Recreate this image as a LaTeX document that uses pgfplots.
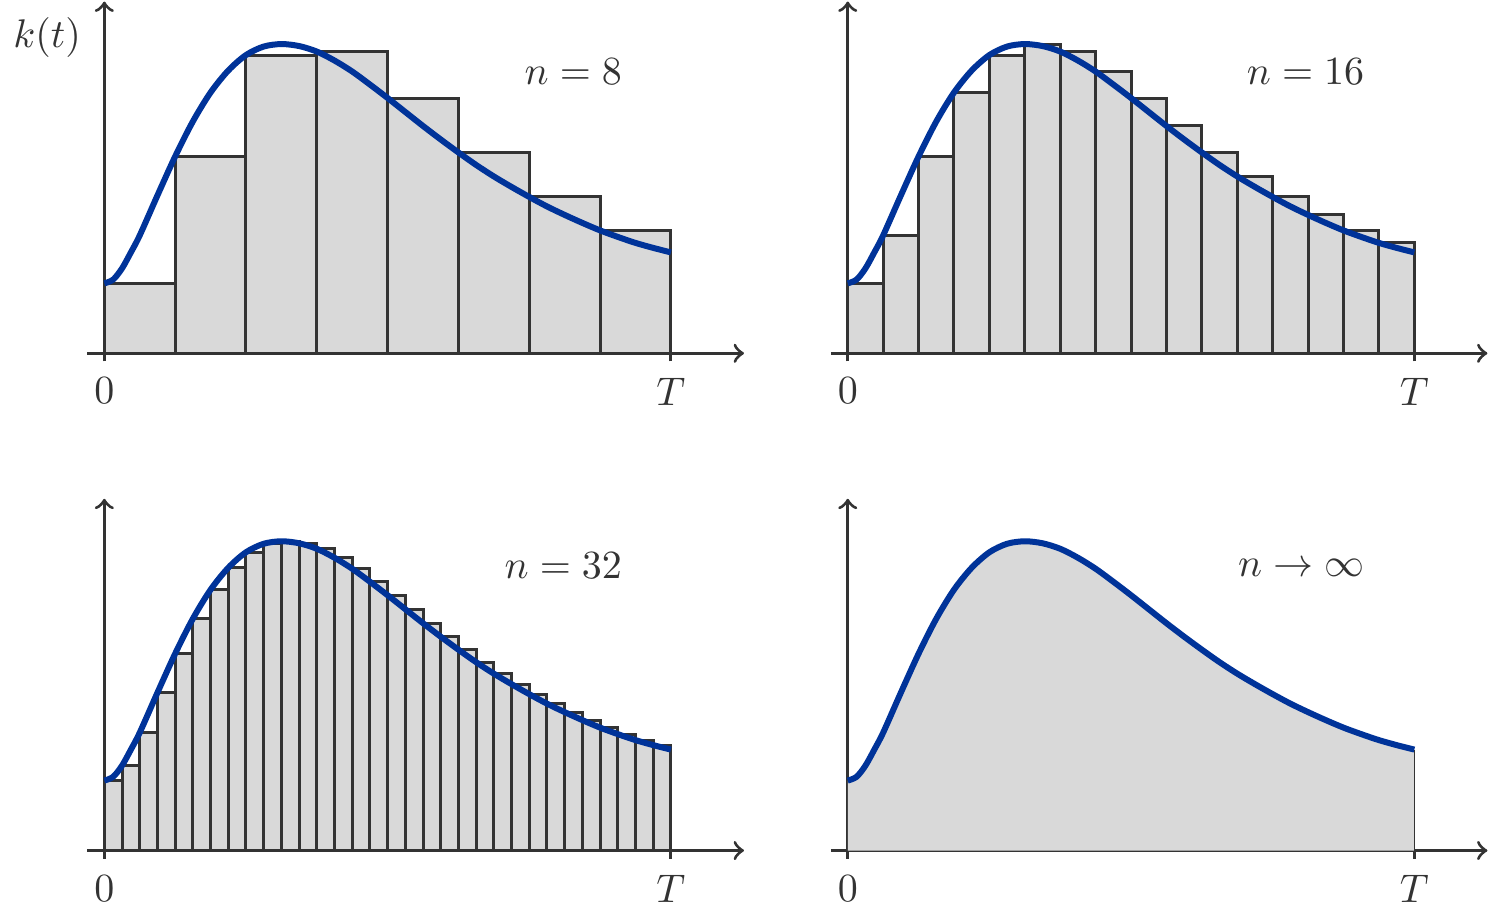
\documentclass[border=0pt]{standalone}
\usepackage{pgfplots}
\pgfplotsset{compat=1.18}
\usepackage{pgfplotstable}

\definecolor{barfill}{HTML}{D9D9D9}
\definecolor{edge}{HTML}{333333}
\definecolor{curve}{HTML}{003399}

% k(t) read off the n=32 panel (left end of each strip), t in units of T
\pgfplotstableread{
t k
0 70
0.03125 85
0.0625 118
0.09375 158
0.125 197
0.15625 232
0.1875 261
0.21875 283
0.25 298.5
0.28125 307
0.3125 309.5
0.34375 307.5
0.375 302
0.40625 293
0.4375 282
0.46875 269
0.5 255.5
0.53125 241.5
0.5625 227.5
0.59375 214
0.625 201
0.65625 188.5
0.6875 177
0.71875 166.5
0.75 156.5
0.78125 147
0.8125 138.5
0.84375 130.5
0.875 123
0.90625 116.5
0.9375 110.5
0.96875 105.5
1 101
}\kdata

% the curve itself, with the flat start read off more closely
\pgfplotstableread{
t k
0 70
0.015625 73.8
0.03125 85
0.046875 101
0.0625 118
0.09375 158
0.125 197
0.15625 232
0.1875 261
0.21875 283
0.25 298.5
0.28125 307
0.3125 309.5
0.34375 307.5
0.375 302
0.40625 293
0.4375 282
0.46875 269
0.5 255.5
0.53125 241.5
0.5625 227.5
0.59375 214
0.625 201
0.65625 188.5
0.6875 177
0.71875 166.5
0.75 156.5
0.78125 147
0.8125 138.5
0.84375 130.5
0.875 123
0.90625 116.5
0.9375 110.5
0.96875 105.5
1 101
}\kline

\pgfplotstableread{
t k
0 70
0.125 197
0.25 298.5
0.375 302
0.5 255.5
0.625 201
0.75 156.5
0.875 123
1 101
}\neight

\pgfplotstableread{
t k
0 70
0.0625 118
0.125 197
0.1875 261
0.25 298.5
0.3125 309.5
0.375 302
0.4375 282
0.5 255.5
0.5625 227.5
0.625 201
0.6875 177
0.75 156.5
0.8125 138.5
0.875 123
0.9375 110.5
1 101
}\nsixteen

\pgfplotsset{
  panel/.style={
    x=141.75pt, y=0.25pt,
    xmin=-0.03, xmax=1.129, ymin=-6, ymax=352,
    axis lines=middle,
    axis line style={edge, line width=0.8pt, ->},
    xtick={0,1}, xticklabels={$0$,$T$},
    hide obscured x ticks=false,
    ytick=\empty,
    tick align=outside, major tick length=2pt,
    tick style={edge, line width=0.8pt},
    xticklabel style={text=edge, yshift=-0.7pt},
    clip=false,
    anchor=origin,
  },
  bars/.style={ybar interval, fill=barfill, draw=edge, line width=0.75pt},
  kcurve/.style={curve, line width=1.5pt, smooth},
}
\tikzset{nlabel/.style={text=edge, anchor=base east, inner sep=0pt}}

\begin{document}
\begin{tikzpicture}
% n = 8
\begin{axis}[panel, at={(0pt,0pt)}]
  \addplot[bars] table[x=t,y=k] {\neight};
  \addplot[kcurve] table[x=t,y=k] {\kline};
  \node[nlabel] at (axis cs:0.915,269) {$n = 8$};
  \node[text=edge] at (axis cs:-0.101,316) {$k(t)$};
\end{axis}
% n = 16
\begin{axis}[panel, at={(186pt,0pt)}]
  \addplot[bars] table[x=t,y=k] {\nsixteen};
  \addplot[kcurve] table[x=t,y=k] {\kline};
  \node[nlabel] at (axis cs:0.913,269) {$n = 16$};
\end{axis}
% n = 32
\begin{axis}[panel, at={(0pt,-124.4pt)}]
  \addplot[bars] table[x=t,y=k] {\kdata};
  \addplot[kcurve] table[x=t,y=k] {\kline};
  \node[nlabel] at (axis cs:0.915,272) {$n = 32$};
\end{axis}
% n -> infinity
\begin{axis}[panel, at={(186pt,-124.4pt)}]
  \addplot[fill=barfill, draw=none, smooth] table[x=t,y=k] {\kline} \closedcycle;
  \addplot[edge, line width=0.4pt] coordinates {(1,0) (1,101)};
  \addplot[kcurve] table[x=t,y=k] {\kline};
  \node[nlabel] at (axis cs:0.913,274) {$n \to \infty$};
\end{axis}
\end{tikzpicture}
\end{document}
